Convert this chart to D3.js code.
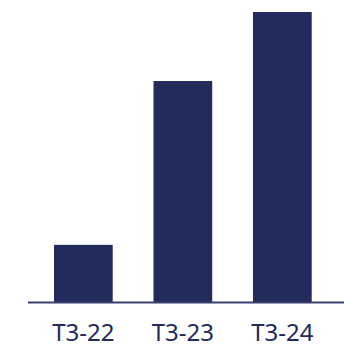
<!DOCTYPE html>
<html>
<head>
<meta charset="utf-8">
<script src="https://cdn.jsdelivr.net/npm/d3@7"></script>
<style>
  html, body { margin: 0; padding: 0; background: #ffffff; }
  svg { display: block; }
</style>
</head>
<body>
<svg id="chart" width="344" height="345"></svg>
<script>
// Quarterly values (Q3 of each year)
const categories = ["T3-22", "T3-23", "T3-24"];
const values = [19.7, 76.2, 100];

const width = 344, height = 345;
const barColor = "#232a5c";
const svg = d3.select("#chart");

const x = d3.scaleBand()
  .domain(categories)
  .range([4.25, 361.45])
  .paddingInner(0.41)
  .paddingOuter(0.5);

const y = d3.scaleLinear()
  .domain([0, 100])
  .range([302, 12]);

svg.append("g")
  .selectAll("rect")
  .data(values)
  .join("rect")
  .attr("x", (d, i) => x(categories[i]))
  .attr("y", d => y(d))
  .attr("width", x.bandwidth())
  .attr("height", d => y(0) - y(d))
  .attr("fill", barColor);

// Baseline axis with category labels
const axis = d3.axisBottom(x).tickSize(0).tickPadding(0);
const g = svg.append("g")
  .attr("transform", `translate(0, ${y(0) + 0.5})`)
  .call(axis);
g.select(".domain").remove();
g.append("line")
  .attr("x1", 28).attr("x2", 344)
  .attr("y1", 0).attr("y2", 0)
  .attr("stroke", "#3a406e")
  .attr("stroke-width", 2);
g.selectAll(".tick text")
  .attr("dy", "0")
  .attr("y", 38.5)
  .attr("fill", barColor)
  .style("font-family", "'Noto Sans', sans-serif")
  .style("font-size", "24px");
</script>
</body>
</html>
